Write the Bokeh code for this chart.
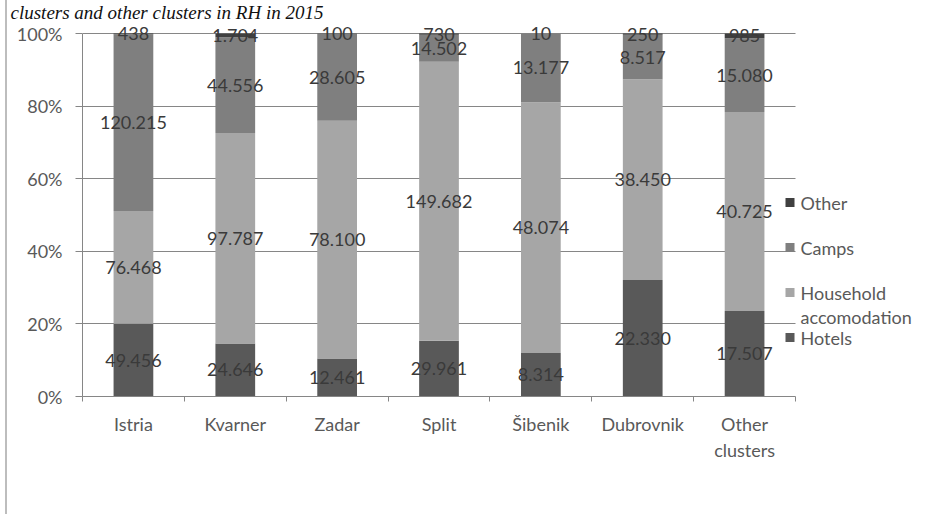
from bokeh.plotting import figure
from bokeh.models import (ColumnDataSource, Range1d, LinearAxis,
                          FixedTicker, NumeralTickFormatter, LabelSet, Label, BoxAnnotation)
from bokeh.core.properties import value
from bokeh.embed import file_html
from bokeh.resources import INLINE

# ---------------- data ----------------
categories = ["Istria", "Kvarner", "Zadar", "Split", "Šibenik", "Dubrovnik", "Other clusters"]
hotels = [49456, 24646, 12461, 29961, 8314, 22330, 17507]
household = [76468, 97787, 78100, 149682, 48074, 38450, 40725]
camps = [120215, 44556, 28605, 14502, 13177, 8517, 15080]
other = [438, 1704, 100, 730, 10, 250, 985]
series_names = ["Hotels", "Household accomodation", "Camps", "Other"]
y_ticks = [0, 0.2, 0.4, 0.6, 0.8, 1.0]
title_text = "clusters and other clusters in RH in 2015"

# ---------------- style ----------------
colors = ["#595959", "#a6a6a6", "#7f7f7f", "#404040"]
FONT = "Lato"
TXT = "#595959"
AX = "#868686"

n = len(categories)
pos = [i + 0.5 for i in range(n)]          # category slot centres
bounds = [float(i) for i in range(n + 1)]  # slot boundaries

series = [hotels, household, camps, other]
keys = ["hotels", "household", "camps", "other"]
totals = [sum(v[i] for v in series) for i in range(n)]

data = {"x": pos}
for k, v in zip(keys, series):
    data[k] = [v[i] / totals[i] for i in range(n)]
src = ColumnDataSource(data)

# label positions: middle of each stacked segment
lx, ly, lt = [], [], []
for i in range(n):
    base = 0.0
    for k, v in zip(keys, series):
        share = data[k][i]
        lx.append(pos[i])
        ly.append(base + share / 2)
        lt.append(f"{v[i]:,}".replace(",", "."))
        base += share
lsrc = ColumnDataSource(dict(x=lx, y=ly, text=lt))

# ---------------- layout (window pixels) ----------------
OFF = 7                      # page offset of the chart area (left frame line)
W, H = 942 - OFF, 514
PL, PR, PT, PB = 82, 795, 33, 396          # plot area (window px)
FT = 24                                    # frame top (window px)
slot = (PR - PL) / n
x_end = (942 - PL) / slot
y_end = (PB - FT) / (PB - PT)

p = figure(x_range=Range1d(0, x_end), y_range=Range1d(0, y_end),
           width=W, height=H, output_backend="svg", toolbar_location=None,
           x_axis_location=None, y_axis_location="left",
           min_border_left=PL - OFF, min_border_right=0, min_border_top=FT,
           min_border_bottom=H - PB)
p.margin = (0, 0, 0, OFF - 2)
p.styles = {"border-left": "2px solid #bdbdbd"}
p.outline_line_color = None
p.background_fill_color = "white"
p.border_fill_color = "white"

p.title.text = title_text
p.title.text_font = "Liberation Serif"
p.title.text_font_style = "italic"
p.title.text_font_size = "19px"
p.title.text_color = "#111111"
p.title.align = "left"
p.title.offset = -(PL - OFF - 3)
p.title.standoff = 0
p.title.vertical_align = "top"

p.vbar_stack(keys, x="x", width=0.39, color=colors, line_color=None, source=src)

p.add_layout(LabelSet(x="x", y="y", text="text", source=lsrc, text_align="center",
                      text_baseline="middle", text_font=value(FONT), text_font_size="18px",
                      text_color="#3a3a3a"))

# y axis
yax = p.yaxis[0]
yax.ticker = FixedTicker(ticks=y_ticks)
yax.formatter = NumeralTickFormatter(format="0%")
yax.bounds = (0, 1)
yax.axis_line_color = AX
yax.major_tick_line_color = AX
yax.major_tick_out = 7
yax.major_tick_in = 0
yax.minor_tick_line_color = None
yax.major_label_standoff = 13
yax.major_label_text_font = FONT
yax.major_label_text_font_size = "18px"
yax.major_label_text_color = TXT

p.xgrid.grid_line_color = None
p.ygrid.ticker = FixedTicker(ticks=y_ticks)
p.ygrid.grid_line_color = AX
p.ygrid.cross_bounds = (0, n)

# x axes: boundary ticks + category labels
tick_axis = LinearAxis(ticker=FixedTicker(ticks=bounds), bounds=(0, n),
                       major_label_overrides={b: "" for b in bounds},
                       axis_line_color=AX, major_tick_line_color=AX,
                       major_tick_out=5, major_tick_in=0, minor_tick_line_color=None,
                       major_label_standoff=0, major_label_text_font_size="4px")
p.add_layout(tick_axis, "below")
cat_labels = {x: c.replace("Other clusters", "Other\nclusters") for x, c in zip(pos, categories)}
cat_axis = LinearAxis(ticker=FixedTicker(ticks=pos), major_label_overrides=cat_labels,
                      axis_line_color=None, major_tick_line_color=None,
                      minor_tick_line_color=None, major_label_standoff=5,
                      major_label_text_font=FONT, major_label_text_font_size="18px",
                      major_label_text_color=TXT)
p.add_layout(cat_axis, "below")

# legend (manual, Excel-like: top entry = last series)
leg_y = [202, 247, 292, 337]
leg_labels = ["Other", "Camps", "Household\naccomodation", "Hotels"]
leg_colors = [colors[3], colors[2], colors[1], colors[0]]
for cy, lab, col in zip(leg_y, leg_labels, leg_colors):
    sy = PB - cy
    p.add_layout(BoxAnnotation(left=785 - PL, right=794 - PL, top=sy + 4.5, bottom=sy - 4.5,
                               left_units="screen", right_units="screen",
                               top_units="screen", bottom_units="screen",
                               fill_color=col, fill_alpha=1, line_color=None))
    p.add_layout(Label(x=800 - PL, y=sy + 11, x_units="screen", y_units="screen",
                       text=lab, text_font=FONT, text_font_size="18px",
                       text_color=TXT, text_baseline="top", text_align="left",
                       text_line_height=1.12))

open("out.html", "w").write(file_html(p, INLINE))
